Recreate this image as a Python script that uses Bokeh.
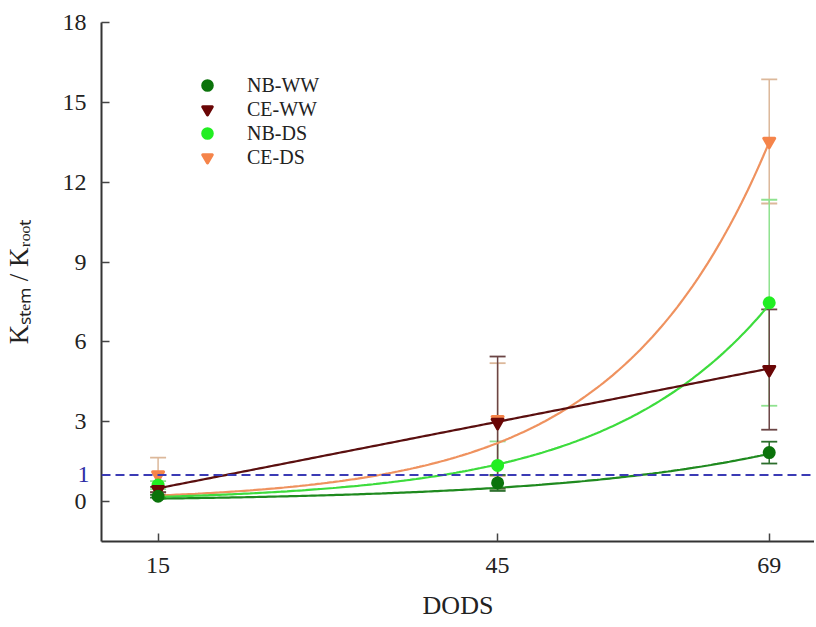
import numpy as np
from bokeh.plotting import figure
from bokeh.models import (Range1d, FixedTicker, Span, Legend, LegendItem, LinearAxis)
from bokeh.embed import file_html
from bokeh.resources import INLINE

# ---------------- data ----------------
days = [15, 45, 69]
x_ticks = [15, 45, 69]
y_ticks = [0, 3, 6, 9, 12, 15, 18]

series_names = ["NB-WW", "CE-WW", "NB-DS", "CE-DS"]
nb_ww = [0.20, 0.70, 1.84]
nb_ww_err = [0.05, 0.30, 0.41]
ce_ww = [0.45, 2.97, 4.96]
ce_ww_err = [0.10, 2.48, 2.26]
nb_ds = [0.62, 1.36, 7.47]
nb_ds_err = [0.15, 0.90, 3.87]
ce_ds = [1.00, 3.08, 13.53]
ce_ds_err = [0.65, 2.12, 2.33]

# fitted regression curves
# exponential y = a*exp(b*x)
fit_nb_ww = [0.0507, 0.0517]
fit_nb_ds = [0.0616, 0.0694]
fit_ce_ds = [0.0733, 0.0756]
# linear y = c + m*x
fit_ce_ww = [-0.75, 0.0833]
reference_level = 1

x_title = "DODS"
y_title = "K\u209b\u209c\u2091\u2098 / K\u1d63\u2092\u2092\u209c"

# ---------------- styling ----------------
FONT = "Liberation Serif"
TXT = "#222222"
col_point = {"NB-WW": "#0b730b", "CE-WW": "#6a0606", "NB-DS": "#22ee22", "CE-DS": "#f5844a"}
col_line = {"NB-WW": "#1f8a1f", "CE-WW": "#5a0f0f", "NB-DS": "#3ddc3d", "CE-DS": "#ef925f"}
col_err = {"NB-WW": "#2c6e2c", "CE-WW": "#6b4545", "NB-DS": "#8fe28f", "CE-DS": "#dcb89a"}
col_ref = "#3b3bb5"

p = figure(width=814, height=626,
           x_range=Range1d(10, 73.0), y_range=Range1d(-1.5, 18),
           output_backend="svg", toolbar_location=None,
           min_border_left=100, min_border_right=0, min_border_top=22,
           min_border_bottom=85)
p.outline_line_color = None
p.xgrid.visible = False
p.ygrid.visible = False
p.background_fill_color = "white"

# x axis
xa = p.xaxis[0]
xa.ticker = FixedTicker(ticks=x_ticks)
xa.axis_line_width = 2
xa.axis_line_color = "#333333"
xa.major_tick_in = 8
xa.major_tick_out = 0
xa.major_tick_line_color = "#444444"
xa.major_tick_line_width = 1.5
xa.minor_tick_line_color = None
xa.major_label_text_font = FONT
xa.major_label_text_font_size = "24px"
xa.major_label_text_color = TXT
xa.major_label_standoff = 16
xa.axis_label = x_title
xa.axis_label_text_font = FONT
xa.axis_label_text_font_size = "26px"
xa.axis_label_text_font_style = "normal"
xa.axis_label_text_color = TXT
xa.axis_label_standoff = 15

# inner y axis: axis line, inward ticks, and the blue "1" label
ya = p.yaxis[0]
ya.ticker = FixedTicker(ticks=[reference_level], minor_ticks=y_ticks)
ya.axis_line_width = 2
ya.axis_line_color = "#333333"
ya.major_tick_in = 0
ya.major_tick_out = 0
ya.minor_tick_in = 8
ya.minor_tick_out = 0
ya.minor_tick_line_color = "#444444"
ya.minor_tick_line_width = 1.5
ya.major_label_text_font = FONT
ya.major_label_text_font_size = "24px"
ya.major_label_text_color = "#2e2ea6"
ya.major_label_standoff = 12
ya.axis_label = None

# outer y axis: the numeric tick labels and the axis title
yb = LinearAxis(ticker=FixedTicker(ticks=y_ticks))
yb.axis_line_color = None
yb.major_tick_line_color = None
yb.minor_tick_line_color = None
yb.major_label_text_font = FONT
yb.major_label_text_font_size = "24px"
yb.major_label_text_color = TXT
yb.major_label_standoff = -18
yb.axis_label = y_title
yb.axis_label_text_font = FONT
yb.axis_label_text_font_size = "27px"
yb.axis_label_text_font_style = "normal"
yb.axis_label_text_color = TXT
yb.axis_label_standoff = 26
p.add_layout(yb, "left")

# reference line at 1
p.add_layout(Span(location=reference_level, dimension="width", line_color=col_ref,
                  line_width=2, line_dash="9 5"))

vals = {"NB-WW": nb_ww, "CE-WW": ce_ww, "NB-DS": nb_ds, "CE-DS": ce_ds}
errs = {"NB-WW": nb_ww_err, "CE-WW": ce_ww_err, "NB-DS": nb_ds_err, "CE-DS": ce_ds_err}
markers = {"NB-WW": "circle", "CE-WW": "inverted_triangle", "NB-DS": "circle", "CE-DS": "inverted_triangle"}
sizes = {"NB-WW": 10, "CE-WW": 11, "NB-DS": 10, "CE-DS": 11}

# error bars
for name in ["CE-DS", "NB-DS", "CE-WW", "NB-WW"]:
    v = np.array(vals[name]); e = np.array(errs[name])
    up = v + e; lo = v - e
    p.segment(x0=days, y0=lo, x1=days, y1=up, line_color=col_err[name], line_width=1.5)
    p.scatter(x=days + days, y=list(up) + list(lo), marker="dash", size=16,
              line_color=col_err[name], line_width=1.8)

# fitted curves
xs = np.linspace(min(days), max(days), 200)
curves = {
    "NB-WW": fit_nb_ww[0] * np.exp(fit_nb_ww[1] * xs),
    "NB-DS": fit_nb_ds[0] * np.exp(fit_nb_ds[1] * xs),
    "CE-DS": fit_ce_ds[0] * np.exp(fit_ce_ds[1] * xs),
    "CE-WW": fit_ce_ww[0] + fit_ce_ww[1] * xs,
}
for name in ["CE-DS", "NB-DS", "CE-WW", "NB-WW"]:
    p.line(xs, curves[name], line_color=col_line[name], line_width=2.2)

# points
rends = {}
for name in ["CE-DS", "NB-DS", "CE-WW", "NB-WW"]:
    rends[name] = p.scatter(x=days, y=vals[name], marker=markers[name], size=sizes[name],
                            fill_color=col_point[name], line_color=col_point[name],
                            line_width=3, line_join="round")

legend = Legend(items=[LegendItem(label=n, renderers=[rends[n]]) for n in series_names],
                location=(94, 372), border_line_color=None, background_fill_alpha=0,
                label_text_font=FONT, label_text_font_size="20px", label_text_color=TXT,
                glyph_width=24, glyph_height=24, label_height=20, spacing=0,
                padding=0, margin=0, label_standoff=28)
p.add_layout(legend)

open("out.html", "w").write(file_html(p, INLINE))
